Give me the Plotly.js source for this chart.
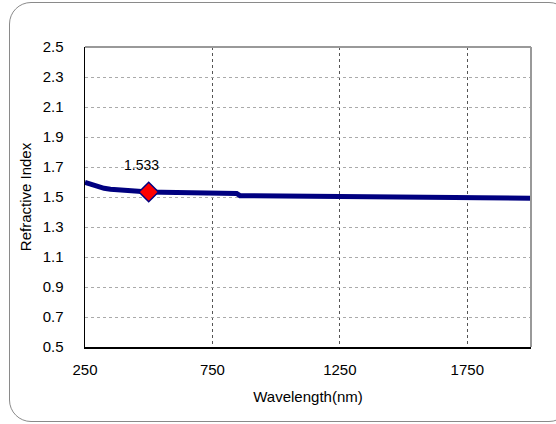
<!DOCTYPE html>
<html>
<head>
<meta charset="utf-8">
<script src="https://cdn.plot.ly/plotly-3.0.1.min.js"></script>
<style>
  html, body { margin: 0; padding: 0; overflow: hidden; background: #fff; }
  #wrap { position: relative; width: 556px; height: 424px; overflow: hidden; }
  #chart { position: absolute; left: 0; top: 0; width: 556px; height: 424px; }
  #frame { position: absolute; left: 9px; top: 2px; width: 560px; height: 418px;
           border: 1px solid #8a8a8a; border-radius: 22px; pointer-events: none; }
</style>
</head>
<body>
<div id="wrap">
  <div id="chart"></div>
  <div id="frame"></div>
</div>
<script>
// Wavelength (nm) and refractive index
const wavelength = [250, 265, 280, 295, 310, 325, 350, 400, 450, 500, 550, 600, 650, 700, 750, 800, 845, 858,
                    900, 1000, 1100, 1200, 1300, 1400, 1500, 1600, 1700, 1800, 1900, 2000];
const refractiveIndex = [1.598, 1.590, 1.581, 1.572, 1.564, 1.558, 1.552, 1.544, 1.538, 1.533, 1.531, 1.529, 1.528, 1.527, 1.526, 1.525, 1.524, 1.509,
                         1.508, 1.507, 1.506, 1.505, 1.504, 1.503, 1.501, 1.499, 1.497, 1.495, 1.493, 1.491];
const markedWavelength = [500];
const markedIndex = [1.533];
const markedLabel = ['1.533'];
const xTicks = [250, 750, 1250, 1750];
const yTicks = [0.5, 0.7, 0.9, 1.1, 1.3, 1.5, 1.7, 1.9, 2.1, 2.3, 2.5];

const font = 'Liberation Sans, Arial, sans-serif';

const traces = [
  {
    x: wavelength, y: refractiveIndex, type: 'scatter', mode: 'lines',
    line: { color: '#000080', width: 5 }, hoverinfo: 'skip'
  },
  {
    x: markedWavelength, y: markedIndex, type: 'scatter', mode: 'markers',
    marker: { symbol: 'diamond', size: 15, color: '#ff0000', line: { color: '#000080', width: 1.5 } }
  }
];

const layout = {
  width: 556, height: 424,
  margin: { l: 85, r: 25, t: 47, b: 77 },
  paper_bgcolor: 'rgba(0,0,0,0)', plot_bgcolor: '#ffffff',
  showlegend: false,
  font: { family: font, size: 15, color: '#000' },
  xaxis: {
    range: [250, 2000], tickvals: xTicks, ticktext: xTicks.map(String),
    showgrid: true, gridcolor: '#555', griddash: 'dot', gridwidth: 1,
    showline: true, linecolor: '#000', linewidth: 1.5,
    ticks: '', ticklabelstandoff: 8, zeroline: false,
    tickfont: { family: font, size: 15 },
    title: { text: 'Wavelength(nm)', font: { family: font, size: 15 }, standoff: 15 }
  },
  yaxis: {
    range: [0.5, 2.5], tickvals: yTicks, ticktext: yTicks.map(v => v.toFixed(1)),
    showgrid: true, gridcolor: '#aaa', griddash: 'dot', gridwidth: 1,
    showline: true, linecolor: '#000', linewidth: 1.5,
    ticks: '', ticklabelstandoff: 17, zeroline: false,
    tickfont: { family: font, size: 15 },
    title: { text: 'Refractive Index', font: { family: font, size: 15 }, standoff: 7 }
  },
  shapes: [
    { type: 'line', xref: 'paper', yref: 'paper', x0: 0, x1: 1, y0: 1, y1: 1, line: { color: '#999', width: 2 } },
    { type: 'line', xref: 'paper', yref: 'paper', x0: 1, x1: 1, y0: 0, y1: 1, line: { color: '#999', width: 2 } }
  ],
  annotations: markedWavelength.map((w, i) => ({
    x: w, y: markedIndex[i], text: markedLabel[i], showarrow: false,
    xshift: -7, yshift: 27, font: { family: font, size: 14, color: '#000' }
  }))
};

Plotly.newPlot('chart', traces, layout, { staticPlot: true, displayModeBar: false });
</script>
</body>
</html>
